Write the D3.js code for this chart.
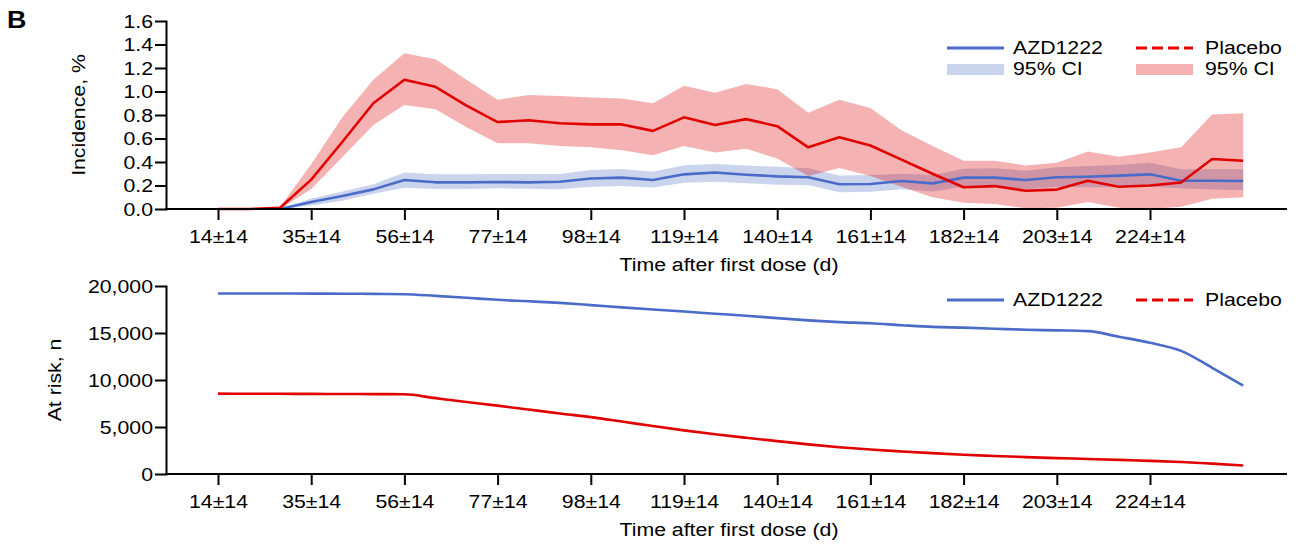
<!DOCTYPE html>
<html>
<head>
<meta charset="utf-8">
<script src="https://cdn.jsdelivr.net/npm/d3@7"></script>
<style>
  body { margin: 0; background: #fff; }
  svg { display: block; }
  text { font-family: "Liberation Sans", Arial, Helvetica, sans-serif; fill: #000; }
</style>
</head>
<body>
<svg id="chart" width="1302" height="547"></svg>
<script>
// Day of follow-up (centre of each 14-day window)
const days = [14, 21, 28, 35, 42, 49, 56, 63, 70, 77, 84, 91, 98, 105, 112, 119, 126, 133, 140,
              147, 154, 161, 168, 175, 182, 189, 196, 203, 210, 217, 224, 231, 238, 245];

// Incidence, % — AZD1222
const azdInc = [0, 0, 0, 0.06, 0.11, 0.167, 0.247, 0.227, 0.227, 0.23,
                0.227, 0.232, 0.26, 0.267, 0.247, 0.295, 0.31, 0.292, 0.278,
                0.27, 0.21, 0.213, 0.238, 0.218, 0.267, 0.267, 0.247, 0.27,
                0.275, 0.284, 0.295, 0.241, 0.241, 0.238];
const azdLo  = [0, 0, 0, 0.03, 0.07, 0.13, 0.18, 0.17, 0.17, 0.176,
                0.172, 0.168, 0.19, 0.196, 0.182, 0.224, 0.232, 0.22, 0.206,
                0.204, 0.142, 0.146, 0.168, 0.15, 0.19, 0.185, 0.168, 0.19,
                0.185, 0.185, 0.19, 0.176, 0.166, 0.16];
const azdHi  = [0, 0, 0, 0.09, 0.15, 0.21, 0.31, 0.295, 0.295, 0.298,
                0.298, 0.298, 0.332, 0.34, 0.318, 0.372, 0.383, 0.37, 0.36,
                0.346, 0.286, 0.29, 0.30, 0.29, 0.343, 0.346, 0.326, 0.355,
                0.366, 0.374, 0.394, 0.338, 0.338, 0.338];

// Incidence, % — Placebo
const plaInc = [0, 0, 0.01, 0.25, 0.57, 0.90, 1.10, 1.04, 0.88, 0.74,
                0.755, 0.73, 0.72, 0.72, 0.665, 0.78, 0.715, 0.765, 0.705,
                0.525, 0.61, 0.54, 0.42, 0.30, 0.185, 0.195, 0.155, 0.165,
                0.24, 0.19, 0.20, 0.225, 0.425, 0.41];
const plaLo  = [0, 0, 0, 0.17, 0.44, 0.715, 0.885, 0.85, 0.695, 0.56,
                0.56, 0.536, 0.525, 0.50, 0.457, 0.536, 0.48, 0.513, 0.43,
                0.28, 0.35, 0.28, 0.19, 0.10, 0.054, 0.043, 0.006, 0.01,
                0.06, 0.01, 0, 0.02, 0.088, 0.10];
const plaHi  = [0, 0.005, 0.02, 0.38, 0.78, 1.10, 1.325, 1.275, 1.10, 0.93,
                0.97, 0.962, 0.95, 0.94, 0.90, 1.05, 0.99, 1.064, 1.02,
                0.82, 0.93, 0.86, 0.67, 0.536, 0.41, 0.41, 0.37, 0.394,
                0.49, 0.445, 0.48, 0.525, 0.805, 0.815];

// Participants at risk, n
const azdRisk = [19200, 19200, 19200, 19190, 19180, 19160, 19130, 18950, 18750, 18530,
                 18370, 18200, 17970, 17730, 17500, 17280, 17050, 16840, 16580,
                 16340, 16160, 16030, 15830, 15650, 15570, 15460, 15350, 15280,
                 15200, 14600, 13970, 13100, 11300, 9400];
const plaRisk = [8550, 8540, 8530, 8520, 8510, 8500, 8480, 8070, 7665, 7270,
                 6860, 6445, 6050, 5580, 5100, 4640, 4220, 3850, 3500,
                 3150, 2850, 2600, 2400, 2220, 2050, 1920, 1800, 1690,
                 1600, 1500, 1400, 1280, 1100, 900];

// Axis ticks
const tickDays = [14, 35, 56, 77, 98, 119, 140, 161, 182, 203, 224];
const tickLabels = ["14±14", "35±14", "56±14", "77±14", "98±14", "119±14",
                    "140±14", "161±14", "182±14", "203±14", "224±14"];
const incTicks = [0, 0.2, 0.4, 0.6, 0.8, 1.0, 1.2, 1.4, 1.6];
const riskTicks = [0, 5000, 10000, 15000, 20000];

// Styling
const BLUE = "#4a6cc8";
const RED = "#e00000";
const BLUE_BAND = "rgba(62,95,190,0.27)";
const RED_BAND = "rgba(220,0,0,0.30)";
const FS = 19;          // base font size
const STRETCH = 1.12;   // horizontal widening of the lettering

const svg = d3.select("#chart");

// Shared horizontal scale (days)
const x = d3.scaleLinear().domain([14, 224]).range([218, 1150]);
const axisX0 = 166, axisX1 = 1286;

const yInc = d3.scaleLinear().domain([0, 1.6]).range([209, 21]);
const yRisk = d3.scaleLinear().domain([0, 20000]).range([474, 286]);

function label(parent, txt, px, py, opts = {}) {
  return parent.append("text")
    .attr("transform", `translate(${px},${py})${opts.rotate ? " rotate(-90)" : ""} scale(${STRETCH},1)`)
    .attr("text-anchor", opts.anchor || "start")
    .attr("font-size", opts.size || FS)
    .attr("font-weight", opts.weight || null)
    .text(txt);
}

function drawXAxis(y0) {
  const g = svg.append("g")
    .attr("transform", `translate(0,${y0})`)
    .call(d3.axisBottom(x)
      .tickValues(tickDays)
      .tickFormat((d, i) => tickLabels[i])
      .tickSize(11)
      .tickSizeOuter(0)
      .tickPadding(10));
  g.attr("font-family", null).attr("font-size", null);
  g.select(".domain").remove();
  g.append("line")
    .attr("x1", axisX0).attr("x2", axisX1)
    .attr("stroke", "#000").attr("stroke-width", 2).attr("stroke-linecap", "square");
  g.selectAll(".tick line").attr("stroke", "#000").attr("stroke-width", 2);
  g.selectAll(".tick text")
    .attr("font-size", FS)
    .attr("transform", `scale(${STRETCH},1)`);
}

function drawYAxis(scale, ticks, fmt) {
  const g = svg.append("g")
    .attr("transform", `translate(${axisX0},0)`)
    .call(d3.axisLeft(scale)
      .tickValues(ticks)
      .tickFormat(fmt)
      .tickSize(11)
      .tickSizeOuter(0));
  g.attr("font-family", null).attr("font-size", null);
  g.select(".domain").attr("stroke", "#000").attr("stroke-width", 2).attr("stroke-linecap", "square");
  g.selectAll(".tick line").attr("stroke", "#000").attr("stroke-width", 2);
  g.selectAll(".tick text")
    .attr("font-size", FS)
    .attr("x", -13 / STRETCH)
    .attr("transform", `scale(${STRETCH},1)`);
}

// ---------- Panel label ----------
label(svg, "B", 7, 28, { size: 24, weight: "bold" });

// ---------- Top panel: incidence ----------
const idx = d3.range(days.length);

const bandArea = (lo, hi) => d3.area()
  .x(i => x(days[i]))
  .y0(i => yInc(lo[i]))
  .y1(i => yInc(hi[i]));
const incLine = (v) => d3.line()
  .x(i => x(days[i]))
  .y(i => yInc(v[i]));

const incPanel = svg.append("g");
incPanel.append("path").attr("d", bandArea(azdLo, azdHi)(idx.slice(2))).attr("fill", BLUE_BAND);
incPanel.append("path").attr("d", bandArea(plaLo, plaHi)(idx)).attr("fill", RED_BAND);
incPanel.append("path").attr("d", incLine(azdInc)(idx.slice(2)))
  .attr("fill", "none").attr("stroke", BLUE).attr("stroke-width", 2.6).attr("stroke-linejoin", "round");
incPanel.append("path").attr("d", incLine(plaInc)(idx))
  .attr("fill", "none").attr("stroke", RED).attr("stroke-width", 2.6).attr("stroke-linejoin", "round");

drawXAxis(yInc(0));
drawYAxis(yInc, incTicks, d3.format(".1f"));
label(svg, "Time after first dose (d)", 729, 271, { anchor: "middle" });
label(svg, "Incidence, %", 85, 115, { anchor: "middle", rotate: true });

// Incidence legend
const legInc = svg.append("g");
legInc.append("line").attr("x1", 947).attr("x2", 1004).attr("y1", 48).attr("y2", 48)
  .attr("stroke", BLUE).attr("stroke-width", 3);
label(legInc, "AZD1222", 1013, 54);
legInc.append("rect").attr("x", 947).attr("y", 64).attr("width", 57).attr("height", 11).attr("fill", BLUE_BAND);
label(legInc, "95% CI", 1013, 75);
legInc.append("line").attr("x1", 1136).attr("x2", 1193).attr("y1", 48).attr("y2", 48)
  .attr("stroke", RED).attr("stroke-width", 3).attr("stroke-dasharray", "11,5");
label(legInc, "Placebo", 1205, 54);
legInc.append("rect").attr("x", 1136).attr("y", 64).attr("width", 57).attr("height", 11).attr("fill", RED_BAND);
label(legInc, "95% CI", 1205, 75);

// ---------- Bottom panel: at risk ----------
const riskLine = (v) => d3.line()
  .curve(d3.curveMonotoneX)
  .x(i => x(days[i]))
  .y(i => yRisk(v[i]));

const riskPanel = svg.append("g");
riskPanel.append("path").attr("d", riskLine(azdRisk)(idx))
  .attr("fill", "none").attr("stroke", BLUE).attr("stroke-width", 2.6);
riskPanel.append("path").attr("d", riskLine(plaRisk)(idx))
  .attr("fill", "none").attr("stroke", RED).attr("stroke-width", 2.6);

drawXAxis(yRisk(0));
drawYAxis(yRisk, riskTicks, d3.format(","));
label(svg, "Time after first dose (d)", 729, 536, { anchor: "middle" });
label(svg, "At risk, n", 61, 380, { anchor: "middle", rotate: true });

// At-risk legend
const legRisk = svg.append("g");
legRisk.append("line").attr("x1", 947).attr("x2", 1004).attr("y1", 300).attr("y2", 300)
  .attr("stroke", BLUE).attr("stroke-width", 3);
label(legRisk, "AZD1222", 1013, 306);
legRisk.append("line").attr("x1", 1136).attr("x2", 1193).attr("y1", 300).attr("y2", 300)
  .attr("stroke", RED).attr("stroke-width", 3).attr("stroke-dasharray", "11,5");
label(legRisk, "Placebo", 1205, 306);
</script>
</body>
</html>
